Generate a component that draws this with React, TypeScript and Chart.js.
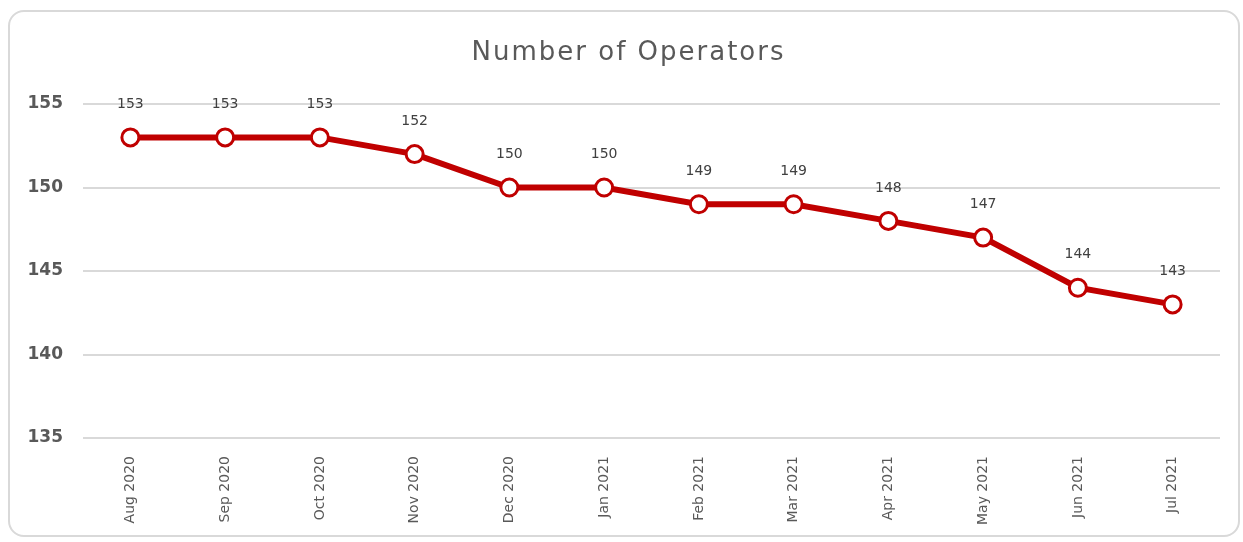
import React, { useEffect, useRef } from "react";
import { Chart, registerables } from "chart.js";

Chart.register(...registerables);

const months = [
  "Aug 2020", "Sep 2020", "Oct 2020", "Nov 2020", "Dec 2020", "Jan 2021",
  "Feb 2021", "Mar 2021", "Apr 2021", "May 2021", "Jun 2021", "Jul 2021",
];
const operators = [153, 153, 153, 152, 150, 150, 149, 149, 148, 147, 144, 143];
const yMin = 135;
const yMax = 155;
const yStep = 5;
const chartTitle = "Number of Operators";

const FONT = "'DejaVu Sans', sans-serif";

const dataLabelPlugin = {
  id: "dataLabels",
  afterDatasetsDraw(chart: any) {
    const ctx = chart.ctx;
    const meta = chart.getDatasetMeta(0);
    const ds = chart.data.datasets[0];
    ctx.save();
    ctx.font = `14px ${FONT}`;
    ctx.fillStyle = "#404040";
    ctx.textAlign = "center";
    ctx.textBaseline = "middle";
    meta.data.forEach((pt: any, i: number) => {
      ctx.fillText(String(ds.data[i]), pt.x, pt.y - 33);
    });
    ctx.restore();
  },
};

const titlePlugin = {
  id: "spacedTitle",
  afterDraw(chart: any) {
    const ctx = chart.ctx;
    ctx.save();
    ctx.font = `26px ${FONT}`;
    (ctx as any).letterSpacing = "2px";
    ctx.fillStyle = "#595959";
    ctx.textAlign = "center";
    ctx.textBaseline = "alphabetic";
    ctx.fillText(chartTitle, chart.width / 2 + 7, 60);
    ctx.restore();
  },
};

export default function App() {
  const ref = useRef<HTMLCanvasElement | null>(null);
  useEffect(() => {
    if (!ref.current) return;
    const chart = new Chart(ref.current, {
      type: "line",
      data: {
        labels: months,
        datasets: [
          {
            data: operators,
            borderColor: "#C00000",
            borderWidth: 6,
            pointRadius: 8.5,
            pointBorderWidth: 3,
            pointBackgroundColor: "#FFFFFF",
            pointBorderColor: "#C00000",
            tension: 0,
          },
        ],
      },
      options: {
        responsive: false,
        animation: false,
        layout: { padding: { top: 104, right: 23, bottom: 0, left: 0 } },
        plugins: {
          legend: { display: false },
          tooltip: { enabled: false },
          title: { display: false },
        },
        scales: {
          x: {
            offset: true,
            grid: { display: false },
            border: { display: false },
            ticks: {
              minRotation: 90,
              maxRotation: 90,
              color: "#595959",
              padding: 10,
              font: { family: FONT, size: 14 },
            },
            afterFit: (s: any) => { s.height = 104; },
          },
          y: {
            min: yMin,
            max: yMax,
            border: { display: false },
            grid: { color: "#D9D9D9", lineWidth: 2, drawTicks: false },
            ticks: {
              stepSize: yStep,
              color: "#595959",
              padding: 20,
              font: { family: FONT, size: 17, weight: "bold" },
            },
            afterFit: (s: any) => { s.width = 83; },
          },
        },
      },
      plugins: [dataLabelPlugin, titlePlugin],
    });
    return () => chart.destroy();
  }, []);

  return (
    <div style={{ position: "fixed", left: 0, top: 0, width: 1243, height: 542, background: "#fff" }}>
      <div
        style={{
          position: "absolute",
          left: 8,
          top: 10,
          width: 1228,
          height: 523,
          border: "2px solid #D9D9D9",
          borderRadius: 16,
        }}
      />
      <canvas ref={ref} width={1243} height={542} style={{ position: "absolute", left: 0, top: 0 }} />
    </div>
  );
}
